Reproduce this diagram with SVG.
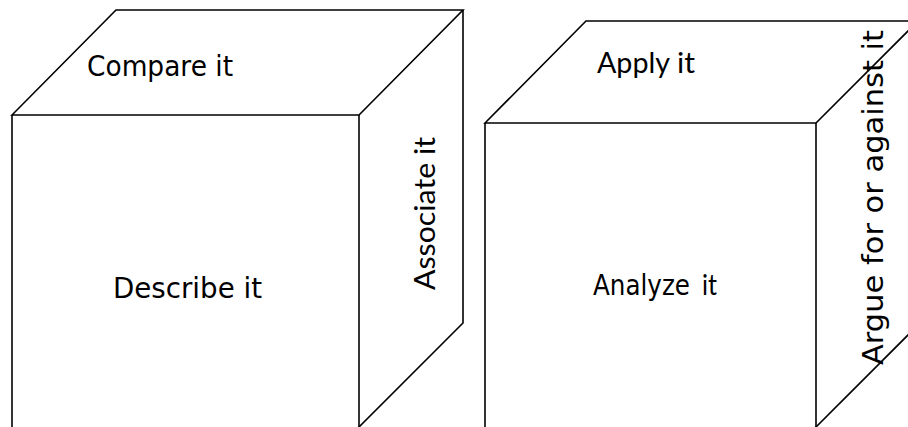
<svg xmlns="http://www.w3.org/2000/svg" width="908" height="427" viewBox="0 0 908 427">
<style>
.edge{fill:none;stroke:#000;stroke-width:1.6;stroke-linejoin:miter}
.comic{font-family:"DejaVu Sans",sans-serif;font-size:28px;fill:#000}
.cal{font-family:Lato,"Open Sans",sans-serif;font-size:29px;fill:#000}
</style>
<rect width="908" height="427" fill="#fff"/>
<g id="cube-left">
<polygon class="edge" points="12,115 116,10 463,10 359,115"/>
<polyline class="edge" points="12,115 12,430"/>
<polyline class="edge" points="359,115 359,430"/>
<polyline class="edge" points="463,10 463,323 358,428"/>
<text class="comic" x="87" y="76" textLength="146" lengthAdjust="spacingAndGlyphs">Compare it</text>
<text class="comic" x="113" y="298" textLength="149" lengthAdjust="spacingAndGlyphs">Describe it</text>
<text class="cal" transform="translate(435,290) rotate(-90)" x="0" y="0" textLength="153" lengthAdjust="spacingAndGlyphs">Associate it</text>
</g>
<g id="cube-right">
<polygon class="edge" points="485,123 586,21 918,21 816,123"/>
<polyline class="edge" points="485,123 485,430"/>
<polyline class="edge" points="816,123 816,430"/>
<polyline class="edge" points="815,428 910,333"/>
<text class="cal" x="597" y="73" textLength="73" lengthAdjust="spacingAndGlyphs">Apply</text>
<text class="cal" x="677" y="73" textLength="18" lengthAdjust="spacingAndGlyphs">it</text>
<text class="comic" x="593" y="295" textLength="97" lengthAdjust="spacingAndGlyphs">Analyze</text>
<text class="cal" x="702" y="295" font-size="27" textLength="15" lengthAdjust="spacingAndGlyphs">it</text>
<text class="comic" transform="translate(883,365) rotate(-90)" x="0" y="0" textLength="335" lengthAdjust="spacingAndGlyphs">Argue for or against it</text>
</g>
<g id="connectors"/>
</svg>
